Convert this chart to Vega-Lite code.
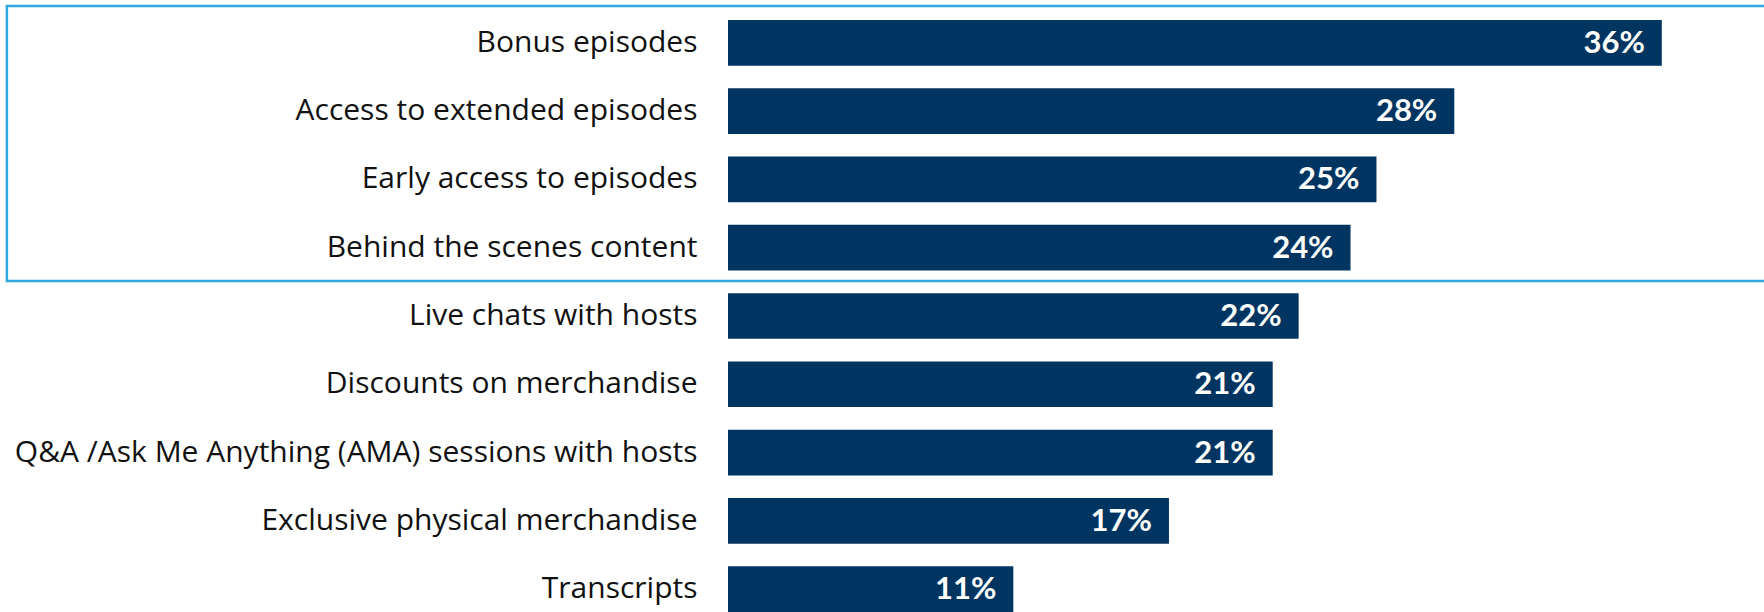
{
  "$schema": "https://vega.github.io/schema/vega-lite/v6.json",
  "autosize": "none",
  "width": 1036,
  "height": 612,
  "padding": {"left": 728, "top": 0, "right": 0, "bottom": 0},
  "background": "white",
  "config": {"view": {"stroke": null}},
  "datasets": {
    "bars": [
      {"item": "Bonus episodes", "pct": 0.36},
      {"item": "Access to extended episodes", "pct": 0.28},
      {"item": "Early access to episodes", "pct": 0.25},
      {"item": "Behind the scenes content", "pct": 0.24},
      {"item": "Live chats with hosts", "pct": 0.22},
      {"item": "Discounts on merchandise", "pct": 0.21},
      {"item": "Q&A /Ask Me Anything (AMA) sessions with hosts", "pct": 0.21},
      {"item": "Exclusive physical merchandise", "pct": 0.17},
      {"item": "Transcripts", "pct": 0.11}
    ],
    "box": [
      {"top": "Bonus episodes", "bottom": "Behind the scenes content", "left": -0.278, "right": 0.41}
    ]
  },
  "resolve": {"scale": {"y": "shared", "x": "shared"}},
  "layer": [
    {
      "data": {"name": "bars"},
      "mark": {"type": "bar", "color": "#003561"},
      "encoding": {
        "y": {
          "field": "item", "type": "nominal", "sort": null,
          "scale": {
            "domain": ["Bonus episodes", "Access to extended episodes", "Early access to episodes", "Behind the scenes content", "Live chats with hosts", "Discounts on merchandise", "Q&A /Ask Me Anything (AMA) sessions with hosts", "Exclusive physical merchandise", "Transcripts"],
            "paddingInner": 0.331, "paddingOuter": 0.146, "align": 1},
          "axis": {"title": null, "ticks": false, "domain": false, "labelPadding": 31,
                   "labelFont": "Open Sans", "labelFontSize": 30, "labelColor": "#111111",
                   "labelLimit": 800}
        },
        "x": {"field": "pct", "type": "quantitative", "scale": {"domain": [0, 0.3994], "nice": false, "zero": false}, "axis": null}
      }
    },
    {
      "data": {"name": "bars"},
      "mark": {"type": "text", "align": "right", "dx": -17, "font": "Lato", "fontWeight": "bold", "fontSize": 31, "color": "white", "baseline": "middle", "dy": 1},
      "encoding": {
        "y": {"field": "item", "type": "nominal", "sort": null},
        "x": {"field": "pct", "type": "quantitative"},
        "text": {"field": "pct", "type": "quantitative", "format": ".0%"}
      }
    },
    {
      "data": {"name": "box"},
      "mark": {"type": "rect", "fill": null, "fillOpacity": 0, "stroke": "#2FA8E0", "strokeWidth": 2.5, "yOffset": -36.75, "y2Offset": 33.35, "clip": false},
      "encoding": {
        "y": {"field": "top", "type": "nominal"},
        "y2": {"field": "bottom"},
        "x": {"field": "left", "type": "quantitative"},
        "x2": {"field": "right"}
      }
    }
  ]
}
